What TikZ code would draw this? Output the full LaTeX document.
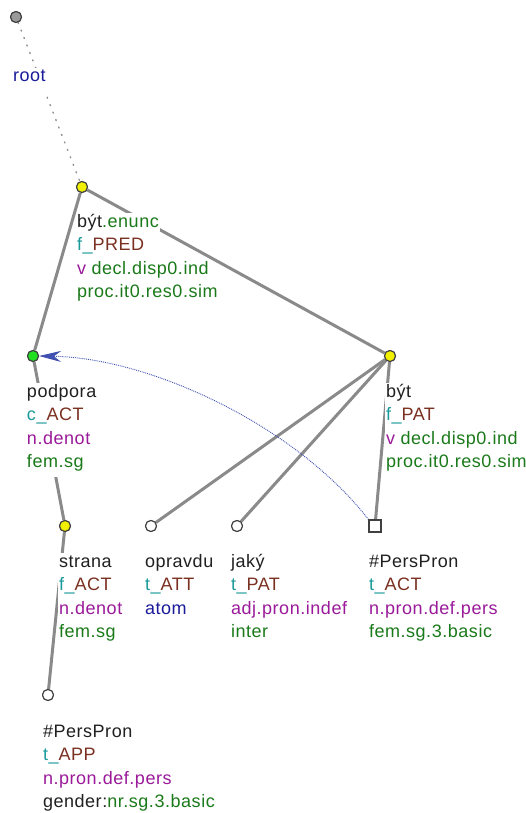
\documentclass[tikz,border=0pt]{standalone}
\usepackage{fontspec}
\setmainfont{Liberation Sans}[LetterSpace=3]
\usetikzlibrary{arrows.meta}
\definecolor{lem}{HTML}{202020}
\definecolor{tea}{HTML}{1A9A9A}
\definecolor{brn}{HTML}{7A3020}
\definecolor{pur}{HTML}{9A1A9A}
\definecolor{grn}{HTML}{1A7A1A}
\definecolor{blu}{HTML}{1A1A9A}
\definecolor{edg}{HTML}{8A8A8A}
\definecolor{yel}{HTML}{F0F000}
\definecolor{gre}{HTML}{20E020}
\definecolor{arr}{HTML}{4050B0}
\tikzset{
  tnode/.style={circle, draw=black!75, line width=1.1pt, minimum size=11pt, inner sep=0pt},
  tsq/.style={rectangle, draw=black!75, line width=1.1pt, minimum size=12pt, inner sep=0pt, fill=white},
  lab/.style={anchor=base west, fill=white, inner xsep=0.8pt, inner ysep=0pt, text height=14pt, text depth=9.6pt, font=\fontsize{18}{20}\selectfont},
  tedge/.style={draw=edg, line width=3pt},
  rootedge/.style={draw=black!45, line width=1.4pt, dash pattern=on 1pt off 7pt, line cap=round},
  coref/.style={draw=arr, line width=0.9pt, densely dotted, -{Stealth[length=22pt,width=11pt,fill=arr]}}
}
\begin{document}
\begin{tikzpicture}[x=1pt,y=-1pt]
\useasboundingbox (0,0) rectangle (526,813);
% nodes
\node[tnode, fill=black!40] (root) at (16,17) {};
\node[tnode, fill=yel] (enunc) at (82,187) {};
\node[tnode, fill=gre] (podpora) at (33,356) {};
\node[tnode, fill=yel] (byt) at (390,356) {};
\node[tnode, fill=yel] (strana) at (65,526) {};
\node[tnode, fill=white] (opravdu) at (151,526) {};
\node[tnode, fill=white] (jaky) at (237,526) {};
\node[tsq] (pp1) at (375,526) {};
\node[tnode, fill=white] (pp2) at (48,695) {};
% edges
\draw[rootedge] (root) -- (enunc);
\draw[tedge] (enunc) -- (podpora);
\draw[tedge] (enunc) -- (byt);
\draw[tedge] (podpora) -- (strana);
\draw[tedge] (strana) -- (pp2);
\draw[tedge] (byt) -- (opravdu);
\draw[tedge] (byt) -- (jaky);
\draw[tedge] (byt) -- (pp1);
\draw[coref] (pp1.north west) .. controls (295,425) and (150,358) .. (podpora.east);
% redraw node marks on top
\node[tnode, fill=black!40] at (16,17) {};
\node[tnode, fill=yel] at (82,187) {};
\node[tnode, fill=gre] at (33,356) {};
\node[tnode, fill=yel] at (390,356) {};
\node[tnode, fill=yel] at (65,526) {};
\node[tnode, fill=white] at (151,526) {};
\node[tnode, fill=white] at (237,526) {};
\node[tsq] at (375,526) {};
\node[tnode, fill=white] at (48,695) {};
% labels
\node[lab, text=blu] (rootL) at (12,82) {root};
% být.enunc
\node[lab] (e1) at (76,227) {\textcolor{lem}{být}\textcolor{grn}{.enunc}};
\node[lab] (e2) at (76,250.6) {\textcolor{tea}{f\_}\textcolor{brn}{PRED}};
\node[lab] (e3) at (76,274.2) {\textcolor{pur}{v} \textcolor{grn}{decl.disp0.ind}};
\node[lab, text=grn] (e4) at (76,297.8) {proc.it0.res0.sim};
% podpora
\node[lab, text=lem] (p1) at (26,397) {podpora};
\node[lab] (p2) at (26,420.6) {\textcolor{tea}{c\_}\textcolor{brn}{ACT}};
\node[lab, text=pur] (p3) at (26,444.2) {n.denot};
\node[lab, text=grn] (p4) at (26,467.8) {fem.sg};
% být
\node[lab, text=lem] (b1) at (385,397) {být};
\node[lab] (b2) at (385,420.6) {\textcolor{tea}{f\_}\textcolor{brn}{PAT}};
\node[lab] (b3) at (385,444.2) {\textcolor{pur}{v} \textcolor{grn}{decl.disp0.ind}};
\node[lab, text=grn] (b4) at (385,467.8) {proc.it0.res0.sim};
% strana
\node[lab, text=lem] (s1) at (58,567) {strana};
\node[lab] (s2) at (58,590.6) {\textcolor{tea}{f\_}\textcolor{brn}{ACT}};
\node[lab, text=pur] (s3) at (58,614.2) {n.denot};
\node[lab, text=grn] (s4) at (58,637.8) {fem.sg};
% opravdu
\node[lab, text=lem] (o1) at (144,567) {opravdu};
\node[lab] (o2) at (144,590.6) {\textcolor{tea}{t\_}\textcolor{brn}{ATT}};
\node[lab, text=blu] (o3) at (144,614.2) {atom};
% jaký
\node[lab, text=lem] (j1) at (230,567) {jaký};
\node[lab] (j2) at (230,590.6) {\textcolor{tea}{t\_}\textcolor{brn}{PAT}};
\node[lab, text=pur] (j3) at (230,614.2) {adj.pron.indef};
\node[lab, text=grn] (j4) at (230,637.8) {inter};
% #PersPron (ACT)
\node[lab, text=lem] (q1) at (368,567) {\#PersPron};
\node[lab] (q2) at (368,590.6) {\textcolor{tea}{t\_}\textcolor{brn}{ACT}};
\node[lab, text=pur] (q3) at (368,614.2) {n.pron.def.pers};
\node[lab, text=grn] (q4) at (368,637.8) {fem.sg.3.basic};
% #PersPron (APP)
\node[lab, text=lem] (r1) at (42,737) {\#PersPron};
\node[lab] (r2) at (42,760.6) {\textcolor{tea}{t\_}\textcolor{brn}{APP}};
\node[lab, text=pur] (r3) at (42,784.2) {n.pron.def.pers};
\node[lab] (r4) at (42,807.8) {\textcolor{lem}{gender:}\textcolor{grn}{nr.sg.3.basic}};
\end{tikzpicture}
\end{document}
